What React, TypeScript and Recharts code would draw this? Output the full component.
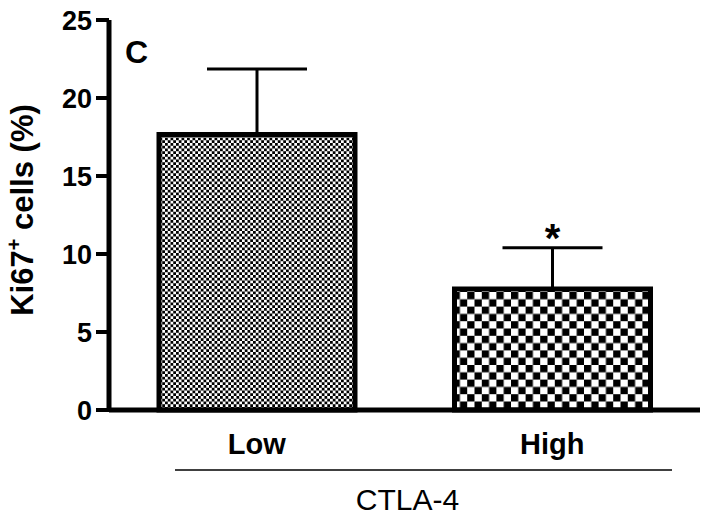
import { Bar, BarChart, Cell, ErrorBar, LabelList, XAxis, YAxis } from 'recharts';

const categories = ['Low', 'High'];
const means = [17.66, 7.75];
const sems = [4.2, 2.65];
const marks = ['', '*'];
const yTicks = [0, 5, 10, 15, 20, 25];
const fills = ['url(#fineCheck)', 'url(#coarseCheck)'];

const data = categories.map((name, i) => ({
  name,
  mean: means[i],
  err: [0, sems[i]],
  mark: marks[i],
}));

const font = 'Arial, "Liberation Sans", sans-serif';

function XTick({ x, y, payload }: any) {
  return (
    <text x={x} y={y + 44} textAnchor="middle" fontFamily={font} fontWeight="bold" fontSize={29} fill="#000">
      {payload.value}
    </text>
  );
}

function XTitle({ viewBox }: any) {
  const { x, y, width } = viewBox;
  return (
    <g>
      <line x1={x + 66} x2={x + width - 28} y1={y + 60} y2={y + 60} stroke="#000" strokeWidth={1.5} />
      <text x={x + width / 2 + 3} y={y + 100} textAnchor="middle" fontFamily={font} fontSize={30} fill="#000">
        CTLA-4
      </text>
    </g>
  );
}

function YTitle({ viewBox }: any) {
  const cx = viewBox.x + 33;
  const cy = viewBox.y + viewBox.height / 2 - 5;
  return (
    <text
      x={cx}
      y={cy}
      transform={`rotate(-90, ${cx}, ${cy})`}
      textAnchor="middle"
      fontFamily={font}
      fontWeight="bold"
      fontSize={31}
      fill="#000"
    >
      Ki67
      <tspan dy={-12} fontSize={20}>+</tspan>
      <tspan dy={12}> cells (%)</tspan>
    </text>
  );
}

// significance star sits just above the top of the error bar
function Star({ x, y, width, height, value, index }: any) {
  if (!value) return null;
  const perUnit = height / means[index];
  const top = y - sems[index] * perUnit;
  return (
    <text x={x + width / 2} y={top + 4} textAnchor="middle" fontFamily={font} fontWeight="bold" fontSize={40} fill="#000">
      {value}
    </text>
  );
}

export default function App() {
  return (
    <div style={{ position: 'absolute', left: 0, top: 0, background: '#fff' }}>
      <BarChart width={708} height={516} data={data} margin={{ top: 20, right: 8, bottom: 0, left: 0 }}>
        <defs>
          <pattern id="fineCheck" width={5.5} height={5.5} patternUnits="userSpaceOnUse">
            <rect width={5.5} height={5.5} fill="#fff" />
            <rect width={2.75} height={2.75} fill="#000" />
            <rect x={2.75} y={2.75} width={2.75} height={2.75} fill="#000" />
          </pattern>
          <pattern id="coarseCheck" width={14.6} height={14.6} patternUnits="userSpaceOnUse">
            <rect width={14.6} height={14.6} fill="#fff" />
            <rect width={7.3} height={7.3} fill="#000" />
            <rect x={7.3} y={7.3} width={7.3} height={7.3} fill="#000" />
          </pattern>
        </defs>
        <XAxis
          dataKey="name"
          height={106}
          tickLine={false}
          tickSize={0}
          tickMargin={0}
          tick={<XTick />}
          axisLine={{ stroke: '#000', strokeWidth: 5 }}
          label={{ content: <XTitle /> }}
        />
        <YAxis
          width={109}
          domain={[0, 25]}
          ticks={yTicks}
          interval={0}
          tickSize={13}
          tickMargin={4}
          axisLine={{ stroke: '#000', strokeWidth: 5 }}
          tickLine={{ stroke: '#000', strokeWidth: 4 }}
          tick={{ fill: '#000', fontFamily: font, fontWeight: 'bold', fontSize: 27 }}
          label={{ content: <YTitle /> }}
        />
        <Bar dataKey="mean" barSize={196} stroke="#000" strokeWidth={5} isAnimationActive={false}>
          {data.map((d, i) => (
            <Cell key={d.name} fill={fills[i]} />
          ))}
          <ErrorBar dataKey="err" direction="y" width={50} stroke="#000" strokeWidth={3} />
          <LabelList dataKey="mark" content={<Star />} />
        </Bar>
        <text x={125} y={63} fontFamily={font} fontWeight="bold" fontSize={32} fill="#000">
          C
        </text>
      </BarChart>
    </div>
  );
}
